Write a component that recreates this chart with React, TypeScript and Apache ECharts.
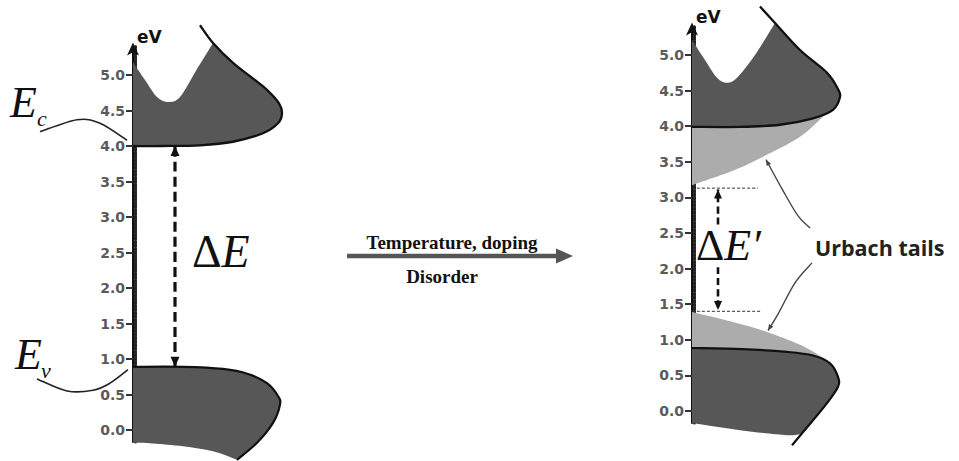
import React, { useEffect, useRef } from 'react';
import * as echarts from 'echarts';

// ---- axis values ----
const energyTicks = [0, 0.5, 1, 1.5, 2, 2.5, 3, 3.5, 4, 4.5, 5];
const energyMin = -0.17;
const energyMax = 5.4;
const dosMax = 1.6;

// ---- left panel (ordered material): [density of states, energy eV] ----
const cbLeftValley = [[0, 5.18], [0.12, 4.93], [0.24, 4.69], [0.35, 4.62], [0.47, 4.69], [0.63, 5.06], [0.8, 5.45]];
const cbLeftEdge = [[0.8, 5.45], [1.0, 5.17], [1.2, 4.95], [1.34, 4.79], [1.46, 4.6], [1.49, 4.46], [1.45, 4.32], [1.3, 4.18], [1.0, 4.06], [0.67, 4.01], [0.3, 4.0], [0, 4.0]];
const cbLeftCap = [0.67, 5.7];
const vbLeftEdge = [[0, 0.89], [0.5, 0.89], [0.9, 0.86], [1.15, 0.79], [1.34, 0.66], [1.45, 0.48], [1.47, 0.36], [1.4, 0.1], [1.24, -0.18], [1.04, -0.42]];
const vbLeftBase = [[1.04, -0.42], [0.8, -0.3], [0.5, -0.23], [0.2, -0.19], [0, -0.18]];
const gapLeft = [[0.42, 0.89], [0.42, 4.0]];
const ecLeader = [[-0.93, 4.2], [-0.56, 4.37], [-0.33, 4.32], [-0.06, 4.08]];
const evLeader = [[-0.96, 0.72], [-0.66, 0.55], [-0.4, 0.56], [-0.23, 0.66], [-0.05, 0.85]];

// ---- right panel (disordered material) ----
const cbRightValley = [[0, 5.21], [0.12, 4.95], [0.25, 4.68], [0.35, 4.61], [0.45, 4.68], [0.63, 5.0], [0.83, 5.45]];
const cbRightEdge = [[0.83, 5.45], [1.08, 5.07], [1.35, 4.75], [1.46, 4.52], [1.48, 4.41], [1.41, 4.23], [1.21, 4.11], [0.88, 4.02], [0.48, 3.99], [0, 3.99]];
const cbRightCap = [0.68, 5.68];
const cbTailTop = [[0, 4.02], [0.9, 4.06], [1.2, 4.13], [1.33, 4.16]];
const cbTailLow = [[1.33, 4.16], [1.08, 3.85], [0.71, 3.57], [0.42, 3.38], [0, 3.17]];
const vbRightEdge = [[0, 0.885], [0.5, 0.87], [0.95, 0.83], [1.21, 0.78], [1.38, 0.67], [1.46, 0.48], [1.46, 0.34], [1.35, 0.11], [1.21, -0.13], [1.0, -0.48]];
const vbRightFillEdge = [[0, 0.885], [0.5, 0.87], [0.95, 0.83], [1.21, 0.78], [1.38, 0.67], [1.46, 0.48], [1.46, 0.34], [1.35, 0.11], [1.21, -0.13], [1.1, -0.32]];
const vbRightBase = [[1.1, -0.32], [0.95, -0.34], [0.48, -0.27], [0, -0.17]];
const vbTailTop = [[0, 1.39], [0.41, 1.25], [0.75, 1.11], [1.08, 0.93], [1.3, 0.76], [1.36, 0.7]];
const vbTailLow = [[1.36, 0.7], [1.2, 0.72], [0.9, 0.76], [0, 0.8]];
const gapRightTop = [[0, 3.13], [0.66, 3.13]];
const gapRightBottom = [[0, 1.4], [0.7, 1.4]];
const gapRightUp = [[0.26, 2.62], [0.26, 3.11]];
const gapRightDown = [[0.26, 2.02], [0.26, 1.42]];
const tailLeaderUpper = [[1.18, 2.57], [1.06, 2.74], [0.9, 3.12], [0.74, 3.53]];
const tailLeaderLower = [[1.2, 2.08], [1.03, 1.8], [0.86, 1.36], [0.76, 1.13]];

const DARK = '#575757';
const LIGHT = '#acacac';
const INK = '#111111';

type Pt = number[];

function smoothD(px: Pt[], start: boolean): string {
  let d = (start ? 'M' : 'L') + px[0][0].toFixed(2) + ',' + px[0][1].toFixed(2);
  for (let i = 0; i < px.length - 1; i++) {
    const p0 = px[i - 1] || px[i];
    const p1 = px[i];
    const p2 = px[i + 1];
    const p3 = px[i + 2] || px[i + 1];
    const c1x = p1[0] + (p2[0] - p0[0]) / 6;
    const c1y = p1[1] + (p2[1] - p0[1]) / 6;
    const c2x = p2[0] - (p3[0] - p1[0]) / 6;
    const c2y = p2[1] - (p3[1] - p1[1]) / 6;
    d += 'C' + c1x.toFixed(2) + ',' + c1y.toFixed(2) + ' ' + c2x.toFixed(2) + ',' + c2y.toFixed(2) + ' ' + p2[0].toFixed(2) + ',' + p2[1].toFixed(2);
  }
  return d;
}

function arrowHead(tip: Pt, from: Pt, len: number, half: number, color: string) {
  const dx = tip[0] - from[0];
  const dy = tip[1] - from[1];
  const l = Math.hypot(dx, dy) || 1;
  const ux = dx / l, uy = dy / l;
  const bx = tip[0] - ux * len, by = tip[1] - uy * len;
  return {
    type: 'polygon',
    shape: { points: [tip, [bx - uy * half, by + ux * half], [bx + uy * half, by - ux * half]] },
    style: { fill: color, stroke: null },
  };
}

interface ShapeOpts {
  grid: number;
  segs: Pt[][];
  closed?: boolean;
  fill?: string | null;
  stroke?: string | null;
  lineWidth?: number;
  lineDash?: number[] | null;
  arrowEnd?: boolean;
  arrowStart?: boolean;
  arrowLen?: number;
  arrowHalf?: number;
  z?: number;
}

function shapeSeries(o: ShapeOpts) {
  return {
    type: 'custom',
    coordinateSystem: 'cartesian2d',
    xAxisIndex: o.grid,
    yAxisIndex: o.grid * 2,
    clip: false,
    silent: true,
    z: o.z ?? 2,
    data: [[0, 0]],
    renderItem: (_params: any, api: any) => {
      const pxSegs = o.segs.map((s) => s.map((p) => api.coord(p)));
      let d = '';
      pxSegs.forEach((s, i) => {
        d += smoothD(s, i === 0);
      });
      if (o.closed) d += 'Z';
      const children: any[] = [
        {
          type: 'path',
          shape: { pathData: d },
          style: {
            fill: o.fill ?? null,
            stroke: o.stroke ?? null,
            lineWidth: o.lineWidth ?? 1,
            lineDash: o.lineDash ?? null,
            lineJoin: 'round',
            lineCap: 'butt',
          },
        },
      ];
      const last = pxSegs[pxSegs.length - 1];
      const first = pxSegs[0];
      const len = o.arrowLen ?? 10;
      const half = o.arrowHalf ?? 4;
      const col = o.stroke ?? INK;
      if (o.arrowEnd) children.push(arrowHead(last[last.length - 1], last[last.length - 2], len, half, col));
      if (o.arrowStart) children.push(arrowHead(first[0], first[1], len, half, col));
      return { type: 'group', children };
    },
  };
}

function mainYAxis(grid: number) {
  return {
    gridIndex: grid,
    type: 'value',
    min: energyMin,
    max: energyMax,
    position: 'left',
    name: 'eV',
    nameLocation: 'end',
    nameGap: 10,
    nameTextStyle: {
      fontFamily: 'DejaVu Sans',
      fontWeight: 'bold',
      fontSize: 17,
      color: '#111',
      align: 'left',
      verticalAlign: 'middle',
      padding: [0, 0, 0, 4],
    },
    axisLine: {
      show: true,
      symbol: ['none', 'arrow'],
      symbolSize: [9, 13],
      symbolOffset: [0, 4],
      lineStyle: { color: INK, width: 2 },
    },
    axisTick: {
      show: true,
      customValues: energyTicks,
      length: 7,
      lineStyle: { color: '#333', width: 2 },
    },
    axisLabel: {
      show: true,
      customValues: energyTicks,
      margin: 8,
      formatter: (v: number) => v.toFixed(1),
      fontFamily: 'DejaVu Sans',
      fontWeight: 'bold',
      fontSize: 14,
      color: '#5a5a5a',
    },
    splitLine: { show: false },
  };
}

function rulerYAxis(grid: number) {
  return {
    gridIndex: grid,
    type: 'value',
    min: energyMin,
    max: energyMax,
    position: 'left',
    offset: -2.5,
    axisLine: { show: true, lineStyle: { color: '#222', width: 3, type: [2.4, 1.15] } },
    axisTick: { show: false },
    axisLabel: { show: false },
    splitLine: { show: false },
  };
}

export default function App() {
  const ref = useRef<HTMLDivElement>(null);

  useEffect(() => {
    if (!ref.current) return;
    const chart = echarts.init(ref.current, undefined, { renderer: 'svg' });

    const series: any[] = [
      // left panel
      shapeSeries({ grid: 0, segs: [cbLeftValley, cbLeftEdge], closed: true, fill: DARK }),
      shapeSeries({ grid: 0, segs: [[cbLeftCap, ...cbLeftEdge]], stroke: INK, lineWidth: 2.3, z: 3 }),
      shapeSeries({ grid: 0, segs: [vbLeftEdge, vbLeftBase], closed: true, fill: DARK }),
      shapeSeries({ grid: 0, segs: [vbLeftEdge], stroke: INK, lineWidth: 2.2, z: 3 }),
      shapeSeries({ grid: 0, segs: [gapLeft], stroke: INK, lineWidth: 3.2, lineDash: [10, 5], arrowStart: true, arrowEnd: true, arrowLen: 10, arrowHalf: 4.5, z: 4 }),
      shapeSeries({ grid: 0, segs: [ecLeader], stroke: '#222', lineWidth: 1.6, z: 4 }),
      shapeSeries({ grid: 0, segs: [evLeader], stroke: '#222', lineWidth: 1.6, z: 4 }),
      // right panel
      shapeSeries({ grid: 1, segs: [cbTailTop, cbTailLow], closed: true, fill: LIGHT, z: 1 }),
      shapeSeries({ grid: 1, segs: [cbRightValley, cbRightEdge], closed: true, fill: DARK }),
      shapeSeries({ grid: 1, segs: [[cbRightCap, ...cbRightEdge]], stroke: INK, lineWidth: 2.3, z: 3 }),
      shapeSeries({ grid: 1, segs: [vbTailTop, vbTailLow], closed: true, fill: LIGHT, z: 1 }),
      shapeSeries({ grid: 1, segs: [vbRightFillEdge, vbRightBase], closed: true, fill: DARK }),
      shapeSeries({ grid: 1, segs: [vbRightEdge], stroke: INK, lineWidth: 2.2, z: 3 }),
      shapeSeries({ grid: 1, segs: [gapRightTop], stroke: '#333', lineWidth: 1, lineDash: [3, 2], z: 4 }),
      shapeSeries({ grid: 1, segs: [gapRightBottom], stroke: '#333', lineWidth: 1, lineDash: [3, 2], z: 4 }),
      shapeSeries({ grid: 1, segs: [gapRightUp], stroke: INK, lineWidth: 2.6, lineDash: [7, 4], arrowEnd: true, arrowLen: 9, arrowHalf: 4, z: 4 }),
      shapeSeries({ grid: 1, segs: [gapRightDown], stroke: INK, lineWidth: 2.6, lineDash: [7, 4], arrowEnd: true, arrowLen: 9, arrowHalf: 4, z: 4 }),
      shapeSeries({ grid: 1, segs: [tailLeaderUpper], stroke: '#444', lineWidth: 1.4, arrowEnd: true, arrowLen: 6, arrowHalf: 2.5, z: 4 }),
      shapeSeries({ grid: 1, segs: [tailLeaderLower], stroke: '#444', lineWidth: 1.4, arrowEnd: true, arrowLen: 6, arrowHalf: 2.5, z: 4 }),
    ];

    const serif = '"Liberation Serif", "DejaVu Serif", serif';

    chart.setOption({
      animation: false,
      backgroundColor: '#ffffff',
      grid: [
        { left: 133, top: 46.6, width: 160, height: 395.5 },
        { left: 692, top: 26.5, width: 160, height: 396.6 },
      ],
      xAxis: [
        { gridIndex: 0, type: 'value', min: 0, max: dosMax, show: false },
        { gridIndex: 1, type: 'value', min: 0, max: dosMax, show: false },
      ],
      yAxis: [mainYAxis(0), rulerYAxis(0), mainYAxis(1), rulerYAxis(1)],
      series,
      graphic: [
        // band edge labels
        { type: 'text', x: 10, y: 102, style: { text: 'E', fontFamily: serif, fontStyle: 'italic', fontSize: 44, fill: INK, verticalAlign: 'middle' } },
        { type: 'text', x: 37, y: 118, style: { text: 'c', fontFamily: serif, fontStyle: 'italic', fontSize: 22, fill: INK, verticalAlign: 'middle' } },
        { type: 'text', x: 15, y: 354, style: { text: 'E', fontFamily: serif, fontStyle: 'italic', fontSize: 44, fill: INK, verticalAlign: 'middle' } },
        { type: 'text', x: 41, y: 370, style: { text: 'v', fontFamily: serif, fontStyle: 'italic', fontSize: 22, fill: INK, verticalAlign: 'middle' } },
        // gap labels
        {
          type: 'text', x: 192, y: 251,
          style: {
            text: '{d|Δ}{e|E}', verticalAlign: 'middle', fill: INK,
            rich: {
              d: { fontFamily: serif, fontSize: 46, fill: INK },
              e: { fontFamily: serif, fontStyle: 'italic', fontSize: 46, fill: INK },
            },
          },
        },
        {
          type: 'text', x: 696, y: 245,
          style: {
            text: '{d|Δ}{e|E′}', verticalAlign: 'middle', fill: INK,
            rich: {
              d: { fontFamily: serif, fontSize: 44, fill: INK },
              e: { fontFamily: serif, fontStyle: 'italic', fontSize: 44, fill: INK },
            },
          },
        },
        // Urbach tails label
        { type: 'text', x: 815, y: 247, style: { text: 'Urbach tails', fontFamily: '"Open Sans", "Noto Sans", sans-serif', fontWeight: 'bold', fontSize: 21.5, fill: '#222', verticalAlign: 'middle' } },
        // transition arrow
        { type: 'line', shape: { x1: 347, y1: 256, x2: 560, y2: 256 }, style: { stroke: '#555', lineWidth: 4.5 } },
        { type: 'polygon', shape: { points: [[556, 248.5], [573, 256], [556, 263.5]] }, style: { fill: '#555' } },
        { type: 'text', x: 452, y: 242, style: { text: 'Temperature, doping', fontFamily: serif, fontWeight: 'bold', fontSize: 19, fill: INK, align: 'center', verticalAlign: 'middle' } },
        { type: 'text', x: 442, y: 276, style: { text: 'Disorder', fontFamily: serif, fontWeight: 'bold', fontSize: 19, fill: INK, align: 'center', verticalAlign: 'middle' } },
      ],
    });

    return () => chart.dispose();
  }, []);

  return <div ref={ref} style={{ position: 'absolute', left: 0, top: 0, width: 959, height: 461 }} />;
}
